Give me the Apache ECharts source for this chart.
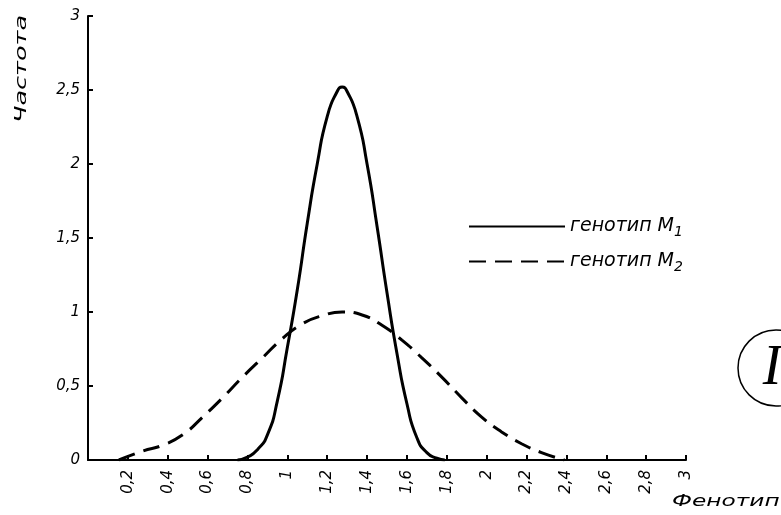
<!DOCTYPE html>
<html>
<head>
<meta charset="utf-8">
<script src="https://cdn.jsdelivr.net/npm/echarts@6/dist/echarts.min.js"></script>
<style>
html,body{margin:0;padding:0;background:#fff;}
#main{width:781px;height:515px;}
</style>
</head>
<body>
<div id="main"></div>
<script>
// genotype M1 (solid)
var m1X = [0.75, 0.80, 0.85, 0.90, 0.95, 1.00, 1.05, 1.10, 1.15, 1.20, 1.25, 1.275, 1.30, 1.35, 1.40, 1.45, 1.50, 1.55, 1.60, 1.65, 1.70, 1.75, 1.79];
var m1Y = [0, 0.02, 0.07, 0.17, 0.40, 0.76, 1.15, 1.60, 2.00, 2.32, 2.49, 2.52, 2.49, 2.32, 2.00, 1.58, 1.13, 0.72, 0.38, 0.15, 0.05, 0.012, 0];
// genotype M2 (dashed)
var m2X = [0.155, 0.275, 0.375, 0.475, 0.575, 0.675, 0.775, 0.875, 0.975, 1.075, 1.175, 1.275, 1.375, 1.475, 1.575, 1.675, 1.775, 1.875, 1.975, 2.075, 2.175, 2.275, 2.39];
var m2Y = [0, 0.06, 0.10, 0.17, 0.29, 0.42, 0.56, 0.69, 0.82, 0.92, 0.975, 1.00, 0.98, 0.91, 0.81, 0.69, 0.56, 0.42, 0.29, 0.19, 0.11, 0.05, 0];

var seriesNames = ['генотип M1', 'генотип M2'];
var xLabelName = 'Фенотип';
var yLabelName = 'Частота';

function zip(xs, ys) {
    return xs.map(function (x, i) { return [x, ys[i]]; });
}
function tickFmt(v) {
    return String(Number(v.toFixed(1))).replace('.', ',');
}

var font = 'DejaVu Sans';
var myChart = echarts.init(document.getElementById('main'));
myChart.setOption({
    animation: false,
    backgroundColor: '#fff',
    grid: {
        left: 88,
        right: 95,
        top: 16,
        bottom: 55,
        containLabel: false,
        outerBoundsMode: 'none'
    },
    legend: {
        orient: 'vertical',
        left: 463,
        top: 212,
        itemWidth: 96,
        itemHeight: 14,
        itemGap: 13,
        data: seriesNames,
        itemStyle: { opacity: 0 },
        formatter: function (name) {
            return '{a|' + name.slice(0, -1) + '}{b|' + name.slice(-1) + '}';
        },
        textStyle: {
            color: '#000',
            rich: {
                a: { fontFamily: font, fontStyle: 'italic', fontSize: 19, color: '#000', lineHeight: 25, verticalAlign: 'middle' },
                b: { fontFamily: font, fontStyle: 'italic', fontSize: 14, color: '#000', lineHeight: 25, verticalAlign: 'bottom' }
            }
        }
    },
    xAxis: {
        type: 'value',
        min: 0,
        max: 3,
        interval: 0.2,
        splitLine: { show: false },
        axisLine: { lineStyle: { color: '#000', width: 2 } },
        axisTick: { inside: true, length: 5, lineStyle: { color: '#000', width: 2 } },
        axisLabel: {
            rotate: 90,
            margin: 10,
            color: '#000',
            fontFamily: font,
            fontStyle: 'italic',
            fontSize: 15,
            formatter: function (v) { return v === 0 ? '' : tickFmt(v); }
        }
    },
    yAxis: {
        type: 'value',
        min: 0,
        max: 3,
        interval: 0.5,
        splitLine: { show: false },
        axisLine: { show: true, lineStyle: { color: '#000', width: 2 } },
        axisTick: { show: true, inside: true, length: 5, lineStyle: { color: '#000', width: 2 } },
        axisLabel: {
            margin: 8,
            color: '#000',
            fontFamily: font,
            fontStyle: 'italic',
            fontSize: 15,
            formatter: tickFmt
        }
    },
    series: [
        {
            name: seriesNames[0],
            type: 'line',
            smooth: 0.6,
            symbol: 'none',
            data: zip(m1X, m1Y),
            lineStyle: { color: '#000', width: 3, type: 'solid' },
            itemStyle: { color: '#000' }
        },
        {
            name: seriesNames[1],
            type: 'line',
            smooth: 0.5,
            symbol: 'none',
            data: zip(m2X, m2Y),
            lineStyle: { color: '#000', width: 3, type: [17, 9] },
            itemStyle: { color: '#000' }
        }
    ],
    graphic: [
        {
            type: 'text',
            x: 22,
            y: 69,
            rotation: Math.PI / 2,
            scaleX: 1.7,
            style: {
                text: yLabelName,
                font: 'italic 15px "DejaVu Sans"',
                fill: '#000',
                align: 'center',
                verticalAlign: 'middle'
            }
        },
        {
            type: 'text',
            x: 672,
            y: 502,
            scaleX: 1.55,
            style: {
                text: xLabelName,
                font: 'italic 15px "DejaVu Sans"',
                fill: '#000',
                align: 'left',
                verticalAlign: 'middle'
            }
        },
        {
            type: 'circle',
            shape: { cx: 776, cy: 368, r: 38 },
            style: { fill: 'none', stroke: '#000', lineWidth: 1.5 }
        },
        {
            type: 'text',
            x: 772,
            y: 369,
            style: {
                text: 'I',
                font: 'italic 56px "Liberation Serif"',
                fill: '#000',
                align: 'center',
                verticalAlign: 'middle'
            }
        }
    ]
});
</script>
</body>
</html>
